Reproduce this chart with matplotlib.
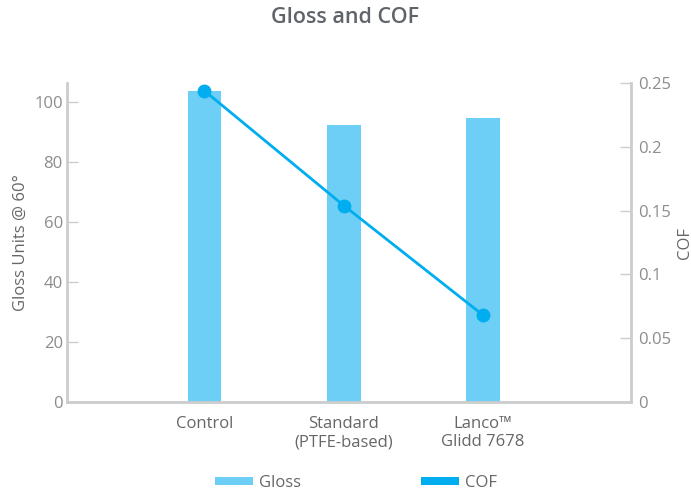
import matplotlib
matplotlib.use("Agg")
import matplotlib.pyplot as plt
from matplotlib.patches import Patch

# data
categories = ["Control", "Standard\n(PTFE-based)", "Lanco\u2122\nGlidd 7678"]
gloss = [103.8, 92.4, 94.8]
cof = [0.244, 0.154, 0.068]

gloss_ticks = [0, 20, 40, 60, 80, 100]
cof_ticks = [0, 0.05, 0.1, 0.15, 0.2, 0.25]
cof_tick_labels = ["0", "0.05", "0.1", "0.15", "0.2", "0.25"]

bar_color = "#6dcff6"
line_color = "#00aeef"
axis_color = "#cccccc"
tick_text = "#8c8c8c"
label_text = "#666666"

plt.rcParams["font.family"] = ["Open Sans", "DejaVu Sans"]

fig = plt.figure(figsize=(6.91, 4.95), dpi=100)
ax = fig.add_axes([0.097, 0.188, 0.816, 0.644])
ax2 = ax.twinx()

x = list(range(len(categories)))
ax.bar(x, gloss, width=0.24, color=bar_color, zorder=2)
ax2.plot(x, cof, color=line_color, lw=2, marker="o", ms=9, zorder=3, clip_on=False)

ax.set_xlim(-0.986, 3.06)
ax.set_ylim(0, 106.3)
ax2.set_ylim(0, 0.25)

ax.set_xticks(x)
ax.set_xticklabels(categories, fontsize=12, color=label_text)
ax.set_yticks(gloss_ticks)
ax.set_yticklabels([str(t) for t in gloss_ticks], fontsize=12, color=tick_text)
ax2.set_yticks(cof_ticks)
ax2.set_yticklabels(cof_tick_labels, fontsize=12, color=tick_text)

ax.tick_params(axis="x", length=0, pad=10)
ax.tick_params(axis="y", direction="in", length=8, width=1, color=axis_color, pad=3)
ax2.tick_params(axis="y", direction="in", length=8, width=1, color=axis_color, pad=5)

for a in (ax, ax2):
    a.spines["top"].set_visible(False)
    for s in ("left", "right", "bottom"):
        a.spines[s].set_color(axis_color)
        a.spines[s].set_linewidth(2)
ax.spines["right"].set_visible(False)
ax2.spines["left"].set_visible(False)
ax2.spines["bottom"].set_visible(False)

ax.set_ylabel("Gloss Units @ 60\u00b0", fontsize=12, color=label_text, labelpad=4)
ax2.set_ylabel("COF", fontsize=12, color=label_text, labelpad=4)

fig.suptitle("Gloss and COF", fontsize=15.5, color="#5f636a", fontweight="semibold", y=0.985)

handles = [Patch(facecolor=bar_color, edgecolor="none", label="Gloss"),
           Patch(facecolor=line_color, edgecolor="none", label="COF")]
fig.legend(handles=handles, loc="lower center", ncol=2, frameon=False,
           fontsize=12, labelcolor=label_text, bbox_to_anchor=(0.515, -0.022),
           columnspacing=7.2, handlelength=2.3, handleheight=0.35, handletextpad=0.35)

fig.savefig("out.png", dpi=100)
